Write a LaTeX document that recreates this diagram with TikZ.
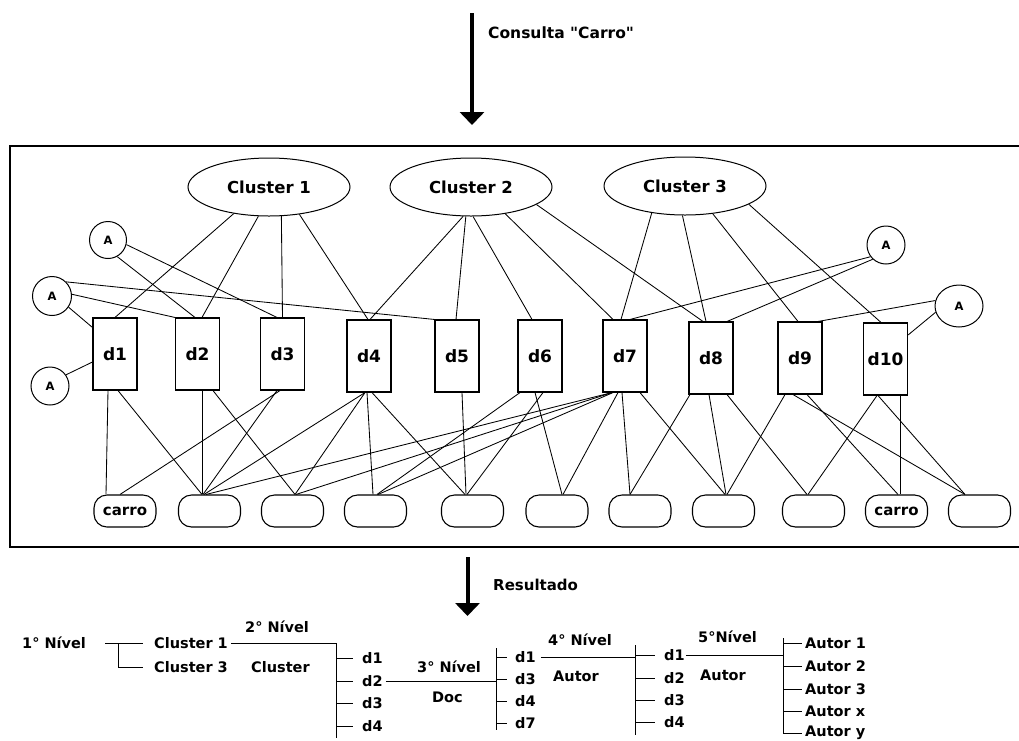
\documentclass[tikz,border=0pt]{standalone}
\usepackage{fontspec}
\setmainfont{DejaVu Sans}[Ligatures=TeXOff]
\usetikzlibrary{shapes.geometric,arrows.meta}

\newcommand{\fsz}[1]{\fontsize{#1}{#1}\selectfont\bfseries}

\tikzset{
  cluster/.style={ellipse, draw, line width=1pt, minimum width=162pt, minimum height=58pt,
                  inner sep=0pt, font=\fsz{16.5}},
  docbox/.style={rectangle, draw, line width=1.1pt, minimum width=44pt, minimum height=72pt,
                 inner sep=0pt, font=\fsz{17}},
  author/.style={circle, draw, line width=1pt, minimum size=37pt, inner sep=0pt, font=\fsz{11.5}},
  term/.style={rectangle, rounded corners=13pt, draw, line width=1.1pt, minimum width=62pt,
               minimum height=32pt, inner sep=0pt, font=\fsz{15}},
  link/.style={line width=0.85pt},
  tree/.style={line width=1pt},
  lbl/.style={anchor=west, inner sep=0pt, font=\fsz{14.5}},
  bigarrow/.style={line width=4pt, -{Triangle[width=24pt,length=13pt]}},
}

\begin{document}
\begin{tikzpicture}[x=1pt, y=-1pt]
\useasboundingbox (0,0) rectangle (1019,740);

% query arrow
\coordinate (qa) at (472,13);
\coordinate (qb) at (472,125);
\draw[bigarrow] (qa) -- (qb);
\node[anchor=west, inner sep=0pt, font=\fsz{15.5}] (qlabel) at (488,33) {Consulta "Carro"};

% frame around the graph
\draw[line width=2pt] (1019,146) -- (10,146) -- (10,547) -- (1019,547);

% clusters
\node[cluster] (c1) at (269,187) {Cluster 1};
\node[cluster] (c2) at (471,187) {Cluster 2};
\node[cluster] (c3) at (685,186) {Cluster 3};

% documents
\node[docbox] (d1) at (115,354) {d1};
\node[docbox] (d2) at (197.5,354) {d2};
\node[docbox] (d3) at (282.5,354) {d3};
\node[docbox] (d4) at (369,356) {d4};
\node[docbox] (d5) at (457,356) {d5};
\node[docbox] (d6) at (540,356) {d6};
\node[docbox] (d7) at (625,356) {d7};
\node[docbox] (d8) at (711,358) {d8};
\node[docbox] (d9) at (800,358) {d9};
\node[docbox] (d10) at (885.5,359) {d10};

% authors
\node[author] (a1) at (108,240) {A};
\node[author, minimum size=39pt] (a2) at (52,296) {A};
\node[author, minimum size=38pt] (a3) at (50,386) {A};
\node[author, minimum size=38pt] (a4) at (886,245) {A};
\node[ellipse, draw, line width=1pt, minimum width=48pt, minimum height=42pt, inner sep=0pt,
      font=\fsz{11.5}] (a5) at (959,306) {A};

% terms
\node[term] (t1) at (125,511) {carro};
\node[term] (t2) at (209.5,511) {};
\node[term] (t3) at (292.5,511) {};
\node[term] (t4) at (375.5,511) {};
\node[term] (t5) at (472.5,511) {};
\node[term] (t6) at (557,511) {};
\node[term] (t7) at (640,511) {};
\node[term] (t8) at (723.5,511) {};
\node[term] (t9) at (813.5,511) {};
\node[term] (t10) at (896.5,511) {carro};
\node[term] (t11) at (979.5,511) {};

% cluster -> document links
\draw[link] (c1.217) -- (d1.north);
\draw[link] (c1.250) -- ([xshift=4.5pt]d2.north);
\draw[link] (c1.293) -- (d3.north);
\draw[link] (c1.318) -- ([xshift=-1pt]d4.north);
\draw[link] (c2.255) -- ([xshift=1pt]d4.north);
\draw[link] (c2.260) -- ([xshift=-1pt]d5.north);
\draw[link] (c2.274) -- ([xshift=-8pt]d6.north);
\draw[link] (c2.322) -- ([xshift=-12pt]d7.north);
\draw[link] (c2.345) -- ([xshift=-8pt]d8.north);
\draw[link] (c3.219) -- ([xshift=-4pt]d7.north);
\draw[link] (c3.265) -- ([xshift=-5pt]d8.north);
\draw[link] (c3.315) -- ([xshift=-2pt]d9.north);
\draw[link] (c3.344) -- ([xshift=-4.5pt]d10.north);

% author -> document links
\draw[link] (a1.299) -- ([xshift=-2.5pt]d2.north);
\draw[link] (a1.346) -- ([xshift=-5.5pt]d3.north);
\draw[link] (a2.45) -- (d5.north west);
\draw[link] (a2.5) -- (d2.north west);
\draw[link] (a2.326) -- ([yshift=-10pt]d1.north west);
\draw[link] (a3.35) -- ([yshift=-8pt]d1.west);
\draw[link] (a4.217) -- ([xshift=5pt]d7.north);
\draw[link] (a4.227) -- ([xshift=16pt]d8.north);
\draw[link] (a5.167) -- ([xshift=18pt]d9.north);
\draw[link] (a5.195) -- ([yshift=24pt]d10.east);

% document -> term links
\draw[link] ([xshift=-7pt]d1.south) -- ([xshift=-19pt]t1.north);
\draw[link] ([xshift=3pt]d1.south) -- ([xshift=-7.5pt]t2.north);
\draw[link] ([xshift=4.5pt]d2.south) -- ([xshift=-7.5pt]t2.north);
\draw[link] ([xshift=15.5pt]d2.south) -- ([xshift=2.5pt]t3.north);
\draw[link] ([xshift=-2.5pt]d3.south) -- ([xshift=-5pt]t1.north);
\draw[link] ([xshift=-5.5pt]d3.south) -- ([xshift=-6.5pt]t2.north);
\draw[link] ([xshift=-4pt]d4.south) -- ([xshift=-5.5pt]t2.north);
\draw[link] ([xshift=-4pt]d4.south) -- ([xshift=2.5pt]t3.north);
\draw[link] ([xshift=-2pt]d4.south) -- ([xshift=-2.5pt]t4.north);
\draw[link] ([xshift=3pt]d4.south) -- ([xshift=-7.5pt]t5.north);
\draw[link] ([xshift=5pt]d5.south) -- ([xshift=-6.5pt]t5.north);
\draw[link] ([xshift=-20pt]d6.south) -- ([xshift=1.5pt]t4.north);
\draw[link] ([xshift=3pt]d6.south) -- ([xshift=-5.5pt]t5.north);
\draw[link] ([xshift=-5pt]d6.south) -- ([xshift=5pt]t6.north);
\draw[link] ([xshift=-13pt]d7.south) -- ([xshift=-3.5pt]t2.north);
\draw[link] ([xshift=-13pt]d7.south) -- ([xshift=3.5pt]t3.north);
\draw[link] ([xshift=-12pt]d7.south) -- ([xshift=2.5pt]t4.north);
\draw[link] ([xshift=-7pt]d7.south) -- ([xshift=6pt]t6.north);
\draw[link] ([xshift=-3pt]d7.south) -- ([xshift=-10pt]t7.north);
\draw[link] ([xshift=15pt]d7.south) -- ([xshift=1.5pt]t8.north);
\draw[link] ([xshift=-21pt]d8.south) -- ([xshift=-10pt]t7.north);
\draw[link] ([xshift=-2pt]d8.south) -- ([xshift=2.5pt]t8.north);
\draw[link] ([xshift=16pt]d8.south) -- ([xshift=-6.5pt]t9.north);
\draw[link] ([xshift=-15pt]d9.south) -- ([xshift=3.5pt]t8.north);
\draw[link] ([xshift=-7pt]d9.south) -- ([xshift=-14.5pt]t11.north);
\draw[link] ([xshift=7pt]d9.south) -- ([xshift=1.5pt]t10.north);
\draw[link] ([xshift=-8.5pt]d10.south) -- ([xshift=-5.5pt]t9.north);
\draw[link] ([xshift=-7.5pt]d10.south) -- ([xshift=-14.5pt]t11.north);
\draw[link] ([xshift=14.5pt]d10.south) -- ([xshift=3.5pt]t10.north);

% result arrow
\coordinate (ra) at (467.5,557);
\coordinate (rb) at (467.5,616);
\draw[bigarrow] (ra) -- (rb);
\node[lbl, font=\fsz{15}] (rlabel) at (493,585) {Resultado};

% result tree: level 1
\node[lbl] (n1) at (22,643) {1° Nível};
\node[lbl] (k1) at (154,643) {Cluster 1};
\node[lbl] (k3) at (154,667) {Cluster 3};
\coordinate (b1) at (118,643);
\draw[tree] (105,643) -- (k1.west -| 143,0);
\draw[tree] (b1) |- ([xshift=-11pt]k3.west);

% level 2
\node[lbl] (n2) at (245,627) {2° Nível};
\node[lbl] (n2s) at (251,667) {Cluster};
\coordinate (v2t) at (336,643);
\coordinate (v2b) at (336,738);
\draw[tree] ([xshift=3pt]k1.east) -- (v2t) -- (v2b);
\foreach \y/\t [count=\i] in {658/d1,681/d2,703/d3,726/d4}{
  \node[lbl] (p\i) at (362,\y) {\t};
  \draw[tree] (336,\y) -- (353,\y);
}

% level 3
\node[lbl] (n3) at (417,667) {3° Nível};
\node[lbl] (n3s) at (432,697) {Doc};
\coordinate (v3t) at (496,648);
\coordinate (v3b) at (496,730);
\draw[tree] (v3t) -- (v3b);
\draw[tree] ([xshift=3pt]p2.east) -- (p2.east -| v3t);
\foreach \y/\t [count=\i] in {657/d1,679/d3,701/d4,723/d7}{
  \node[lbl] (q\i) at (515,\y) {\t};
  \draw[tree] (496,\y) -- (507,\y);
}

% level 4
\node[lbl] (n4) at (548,640) {4° Nível};
\node[lbl] (n4s) at (553,676) {Autor};
\coordinate (v4t) at (635,645);
\coordinate (v4b) at (635,735);
\draw[tree] (v4t) -- (v4b);
\draw[tree] ([xshift=5pt]q1.east) -- (q1.east -| v4t);
\foreach \y/\t [count=\i] in {655/d1,678/d2,700/d3,722/d4}{
  \node[lbl] (r\i) at (664,\y) {\t};
  \draw[tree] (635,\y) -- (655,\y);
}

% level 5
\node[lbl] (n5) at (698,637) {5°Nível};
\node[lbl] (n5s) at (700,675) {Autor};
\coordinate (v5t) at (783,638);
\coordinate (v5b) at (783,733);
\draw[tree] (v5t) -- (v5b);
\draw[tree] ([xshift=1pt]r1.east) -- (r1.east -| v5t);
\foreach \y/\t [count=\i] in {643/Autor 1,666/Autor 2,689/Autor 3,711/Autor x,733/Autor y}{
  \node[lbl] (s\i) at (805,\y) {\t};
  \draw[tree] (783,\y) -- (802,\y);
}
\end{tikzpicture}
\end{document}
